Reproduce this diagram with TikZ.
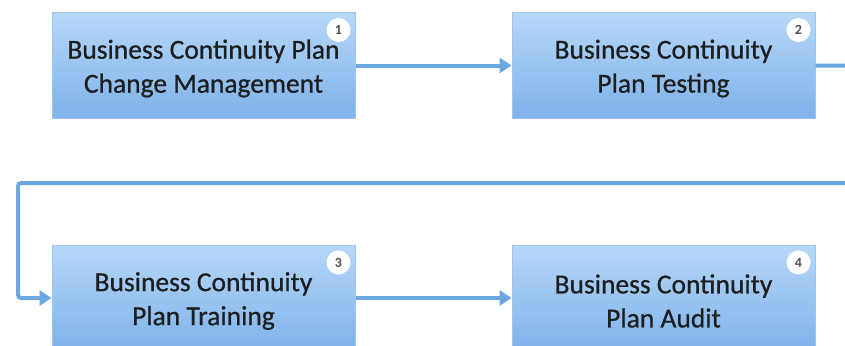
\documentclass[tikz,border=0pt]{standalone}
\usepackage{fontspec}
\setmainfont{Carlito}
\newfontfamily\boxfont{Carlito}[FakeBold=0.7]
\usetikzlibrary{arrows.meta,calc}
\definecolor{boxtop}{HTML}{B7D7F8}
\definecolor{boxbot}{HTML}{7DB2EA}
\definecolor{boxedge}{HTML}{9CC4EE}
\definecolor{flow}{HTML}{6DA7E2}
\definecolor{txt}{HTML}{1E1E1E}
\definecolor{badgetxt}{HTML}{505050}
\begin{document}
\begin{tikzpicture}[x=1pt,y=-1pt,
  stagebox/.style={rectangle, draw=boxedge, line width=1pt,
    top color=boxtop, bottom color=boxbot,
    minimum width=303pt, minimum height=106pt, inner sep=0pt},
  stagetext/.style={align=center, text=txt, inner sep=0pt, yshift=-3pt,
    font=\boxfont\fontsize{27.5}{34}\selectfont},
  badge/.style={circle, fill=white, draw=none, minimum size=24pt, inner sep=0pt,
    text=badgetxt, font=\fontsize{14}{14}\selectfont\bfseries},
  flowline/.style={draw=flow, line width=4pt,
    -{Triangle[length=12pt,width=15pt]}, rounded corners=3pt}]
\useasboundingbox (0,0) rectangle (845,345);
\clip (0,0) rectangle (845,345);
\fill[white] (0,0) rectangle (845,345);

% process stages
\node[stagebox, label={[stagetext]center:Business Continuity Plan\\Change Management}] (b1) at (203.5,65.5) {};
\node[stagebox, label={[stagetext]center:Business Continuity\\Plan Testing}] (b2) at (663.5,65.5) {};
\node[stagebox, label={[stagetext]center:Business Continuity\\Plan Training}] (b3) at (203.5,298) {};
\node[stagebox, label={[stagetext]center:Business Continuity\\Plan Audit}] (b4) at (663.5,298) {};

% step numbers
\node[badge] (n1) at ($(b1.north east)+(-17,18)$) {1};
\node[badge] (n2) at ($(b2.north east)+(-17,18)$) {2};
\node[badge] (n3) at ($(b3.north east)+(-17,18)$) {3};
\node[badge] (n4) at ($(b4.north east)+(-17,18)$) {4};

% flow between stages
\coordinate (off) at (860,65.5);
\coordinate (retR) at (860,183);
\coordinate (retL) at (18,183);
\coordinate (downL) at (18,298);
\path[flowline] (b1.east) -- (b2.west);
\path[flowline] (b2.east) -- (off) -- (retR) -- (retL) -- (downL) -- (b3.west);
\path[flowline] (b3.east) -- (b4.west);
\end{tikzpicture}
\end{document}
